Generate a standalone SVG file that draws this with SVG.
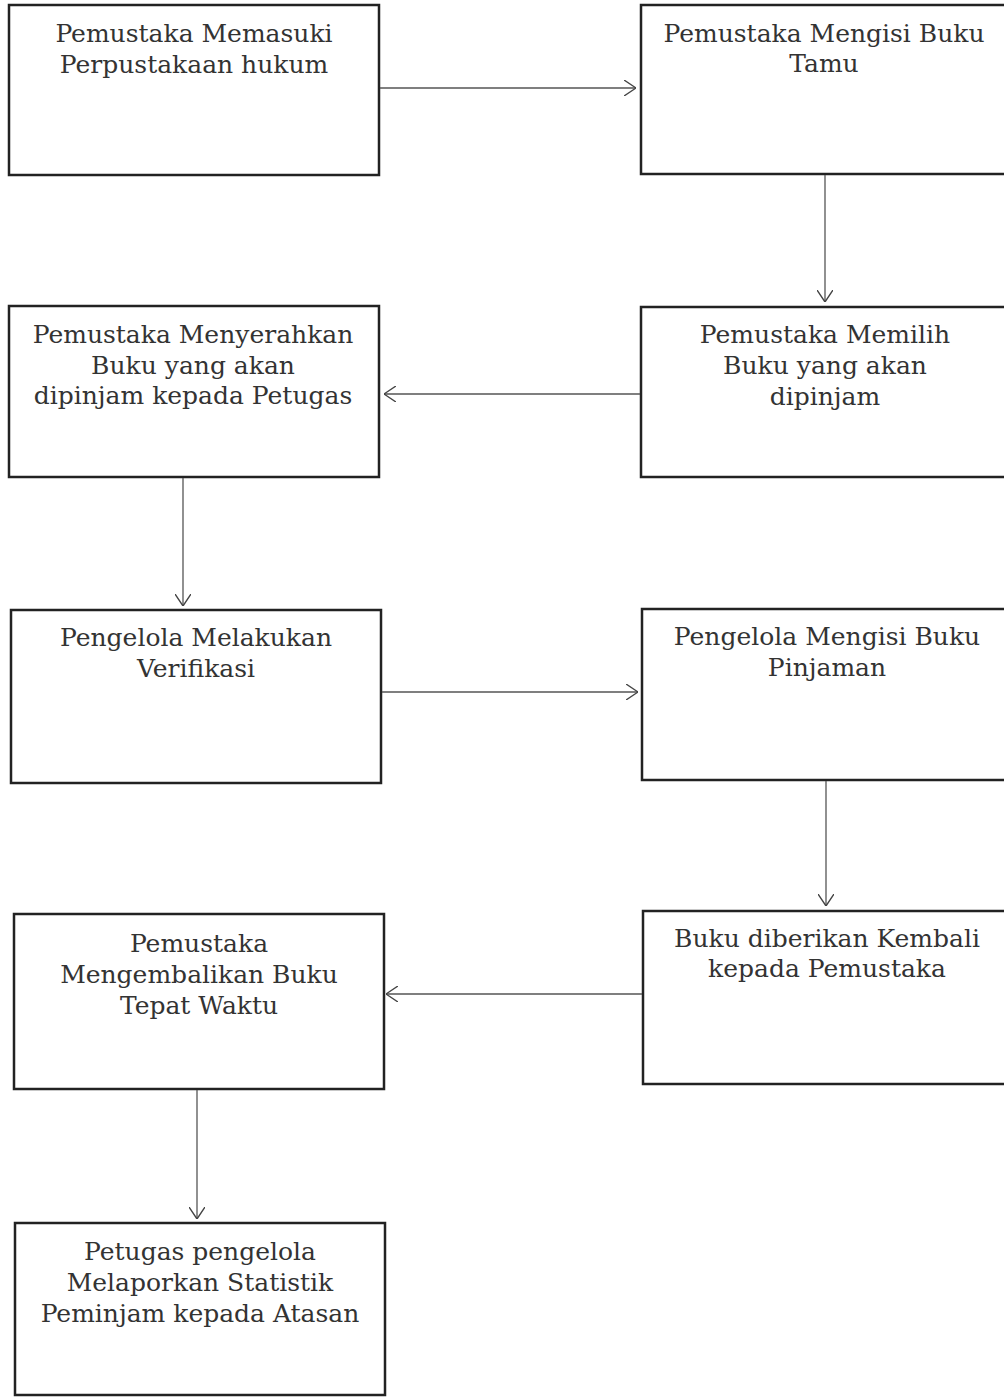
<svg xmlns="http://www.w3.org/2000/svg" width="1004" height="1397" viewBox="0 0 1004 1397">
<style>
.box{fill:#fff;stroke:#222;stroke-width:2.5}
.t{font-family:"DejaVu Serif","Liberation Serif",serif;font-size:25px;fill:#333;text-anchor:middle}
.c{stroke:#555;stroke-width:1.3;fill:none}
</style>
<defs>
<marker id="ah" viewBox="0 0 12 16" refX="12" refY="8" markerWidth="12" markerHeight="16" markerUnits="userSpaceOnUse" orient="auto">
<path d="M0,0 L12,8 L0,16" fill="none" stroke="#444" stroke-width="1.4"/>
</marker>
</defs>
<rect width="1004" height="1397" fill="#fff"/>
<g id="n1"><rect class="box" x="9" y="5" width="370" height="170"/>
<text class="t" x="194" y="42">Pemustaka Memasuki</text><text class="t" x="194" y="73">Perpustakaan hukum</text></g>
<g id="n2"><rect class="box" x="641" y="5" width="368" height="169"/>
<text class="t" x="824" y="42">Pemustaka Mengisi Buku</text><text class="t" x="824" y="72">Tamu</text></g>
<g id="n3"><rect class="box" x="641" y="307" width="368" height="170"/>
<text class="t" x="825" y="343">Pemustaka Memilih</text><text class="t" x="825" y="374">Buku yang akan</text><text class="t" x="825" y="405">dipinjam</text></g>
<g id="n4"><rect class="box" x="9" y="306" width="370" height="171"/>
<text class="t" x="193" y="343">Pemustaka Menyerahkan</text><text class="t" x="193" y="374">Buku yang akan</text><text class="t" x="193" y="404">dipinjam kepada Petugas</text></g>
<g id="n5"><rect class="box" x="11" y="610" width="370" height="173"/>
<text class="t" x="196" y="646">Pengelola Melakukan</text><text class="t" x="196" y="677">Verifikasi</text></g>
<g id="n6"><rect class="box" x="642" y="609" width="367" height="171"/>
<text class="t" x="827" y="645">Pengelola Mengisi Buku</text><text class="t" x="827" y="676">Pinjaman</text></g>
<g id="n7"><rect class="box" x="643" y="911" width="366" height="173"/>
<text class="t" x="827" y="947">Buku diberikan Kembali</text><text class="t" x="827" y="977">kepada Pemustaka</text></g>
<g id="n8"><rect class="box" x="14" y="914" width="370" height="175"/>
<text class="t" x="199" y="952">Pemustaka</text><text class="t" x="199" y="983">Mengembalikan Buku</text><text class="t" x="199" y="1014">Tepat Waktu</text></g>
<g id="n9"><rect class="box" x="15" y="1223" width="370" height="172"/>
<text class="t" x="200" y="1260">Petugas pengelola</text><text class="t" x="200" y="1291">Melaporkan Statistik</text><text class="t" x="200" y="1322">Peminjam kepada Atasan</text></g>
<g id="connectors">
<line class="c" x1="380" y1="88" x2="636" y2="88" marker-end="url(#ah)"/>
<line class="c" x1="825" y1="175" x2="825" y2="302" marker-end="url(#ah)"/>
<line class="c" x1="640" y1="394" x2="384" y2="394" marker-end="url(#ah)"/>
<line class="c" x1="183" y1="478" x2="183" y2="606" marker-end="url(#ah)"/>
<line class="c" x1="382" y1="692" x2="638" y2="692" marker-end="url(#ah)"/>
<line class="c" x1="826" y1="781" x2="826" y2="906" marker-end="url(#ah)"/>
<line class="c" x1="642" y1="994" x2="386" y2="994" marker-end="url(#ah)"/>
<line class="c" x1="197" y1="1090" x2="197" y2="1219" marker-end="url(#ah)"/>
</g>
</svg>
